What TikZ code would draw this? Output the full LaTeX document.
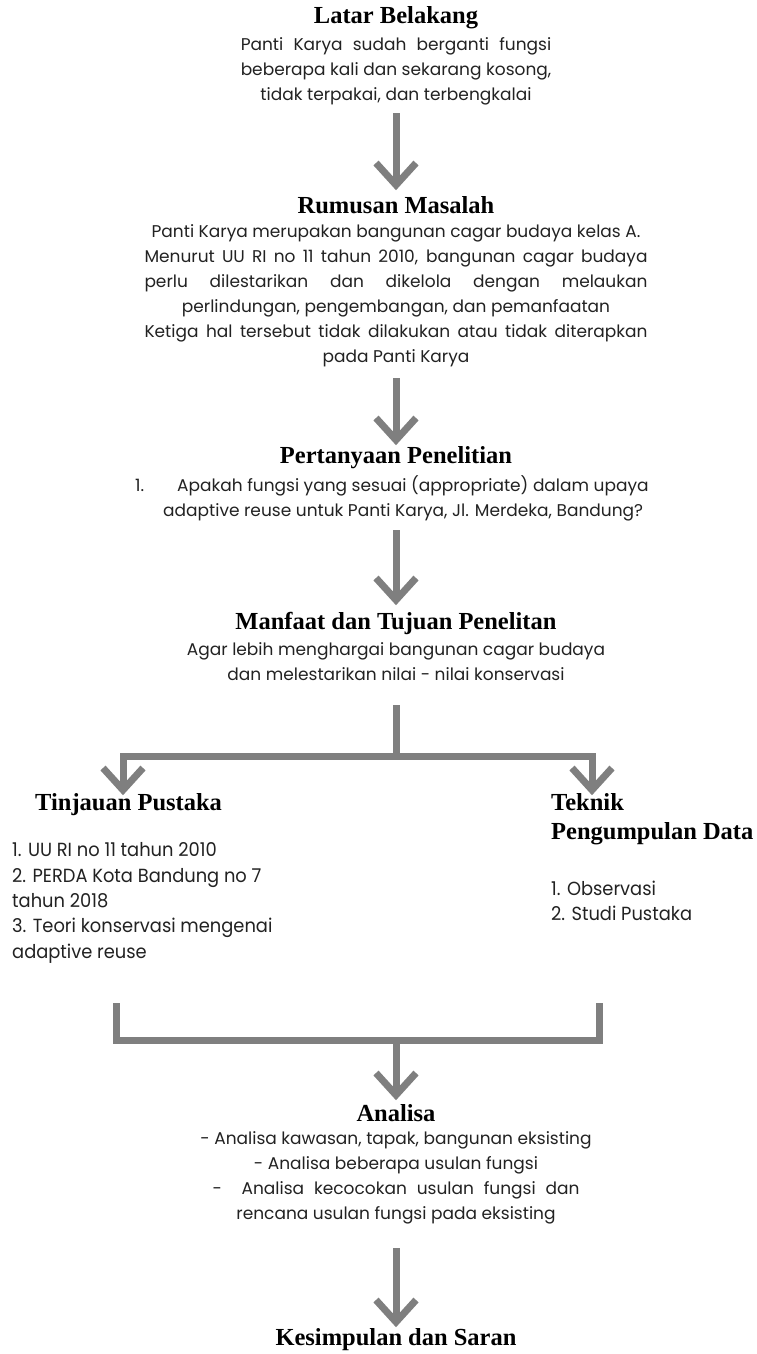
\documentclass[tikz,border=0pt]{standalone}
\usepackage{fontspec}
\setmainfont{Poppins}
\newfontfamily\headfont{Liberation Serif}
\newfontfamily\condfont{Poppins}[FakeStretch=0.94]
\newlength\jw
\definecolor{txt}{HTML}{222222}
\definecolor{lin}{HTML}{7F7F7F}
\begin{document}
\begin{tikzpicture}[x=1pt,y=-1pt,
  head/.style={font=\headfont\bfseries\fontsize{24.5}{29}\selectfont, text=black, inner sep=0pt},
  body/.style={font=\fontsize{17}{25}\selectfont, text=txt, inner sep=0pt, align=center},
  cond/.style={font=\condfont\fontsize{19}{25.3}\selectfont, text=txt, inner sep=0pt, align=left},
  conn/.style={draw=lin, line width=7pt, line cap=butt, line join=miter},
  tipc/.style={draw=lin, line width=7pt, line cap=butt, line join=miter, miter limit=10}]
\useasboundingbox[fill=white] (0,0) rectangle (757,1354);

% Latar Belakang
\node[head] (h1) at (396,18) {Latar Belakang};
\node[body] (b1) at (396,71) {\settowidth\jw{beberapa kali dan sekarang kosong,}\makebox[\jw][s]{Panti Karya sudah berganti fungsi}\\beberapa kali dan sekarang kosong,\\tidak terpakai, dan terbengkalai};

% Rumusan Masalah
\node[head] (h2) at (396,205) {Rumusan Masalah};
\node[body] (b2) at (396,295.5) {Panti Karya merupakan bangunan cagar budaya kelas A.\\
\makebox[503pt][s]{Menurut UU RI no 11 tahun 2010, bangunan cagar budaya}\\
\makebox[503pt][s]{perlu dilestarikan dan dikelola dengan melaukan}\\
perlindungan, pengembangan, dan pemanfaatan\\
\makebox[503pt][s]{Ketiga hal tersebut tidak dilakukan atau tidak diterapkan}\\
pada Panti Karya};

% Pertanyaan Penelitian
\node[head] (h3) at (396,458) {Pertanyaan Penelitian};
\node[body, align=left, anchor=west] (b3) at (135,498.5) {\makebox[42pt][l]{1.}Apakah fungsi yang sesuai (appropriate) dalam upaya\\
\hspace*{28pt}adaptive reuse untuk Panti Karya, Jl. Merdeka, Bandung?};

% Manfaat
\node[head] (h4) at (396,623) {Manfaat dan Tujuan Penelitan};
\node[body] (b4) at (396,661.5) {Agar lebih menghargai bangunan cagar budaya\\dan melestarikan nilai - nilai konservasi};

% Tinjauan Pustaka
\node[head, anchor=west] (h5) at (35,805) {Tinjauan Pustaka};
\node[cond, anchor=west] (b5) at (12,903) {1. UU RI no 11 tahun 2010\\2. PERDA Kota Bandung no 7\\tahun 2018\\3. Teori konservasi mengenai\\adaptive reuse};

% Teknik Pengumpulan Data
\node[head, anchor=west, align=left] (h6) at (551,819.5) {Teknik\\Pengumpulan Data};
\node[cond, anchor=west] (b6) at (551,901) {1. Observasi\\2. Studi Pustaka};

% Analisa
\node[head] (h7) at (396,1113) {Analisa};
\node[body] (b7) at (396,1177.5) {- Analisa kawasan, tapak, bangunan eksisting\\
- Analisa beberapa usulan fungsi\\
\makebox[367pt][s]{- \ Analisa kecocokan usulan fungsi dan}\\
rencana usulan fungsi pada eksisting};

% Kesimpulan
\node[head] (h8) at (396,1340) {Kesimpulan dan Saran};

% connector coordinates
\coordinate (s1) at (396,113);  \coordinate (t1) at (396,185);
\coordinate (s2) at (396,378);  \coordinate (t2) at (396,440);
\coordinate (s3) at (396,530);  \coordinate (t3) at (396,600);
\coordinate (s4) at (396,705);  \coordinate (f4) at (396,756);
\coordinate (fl) at (123,756);  \coordinate (tl) at (123,790);
\coordinate (fr) at (592,756);  \coordinate (tr) at (592,790);
\coordinate (bl) at (116,1003); \coordinate (bll) at (116,1040);
\coordinate (br) at (599,1003); \coordinate (brr) at (599,1040);
\coordinate (bm) at (396,1040); \coordinate (t7) at (396,1095);
\coordinate (s8) at (396,1248); \coordinate (t8) at (396,1322);

% arrows
\draw[conn] (s1) -- (t1); \draw[tipc] (t1) ++(-20,-22) -- (t1) -- ++(20,-22);
\draw[conn] (s2) -- (t2); \draw[tipc] (t2) ++(-20,-22) -- (t2) -- ++(20,-22);
\draw[conn] (s3) -- (t3); \draw[tipc] (t3) ++(-20,-22) -- (t3) -- ++(20,-22);
\draw[conn] (s4) -- (f4);
\draw[conn] (tl) -- (fl) -- (fr) -- (tr);
\draw[tipc] (tl) ++(-20,-22) -- (tl) -- ++(20,-22);
\draw[tipc] (tr) ++(-20,-22) -- (tr) -- ++(20,-22);
\draw[conn] (bl) -- (bll) -- (brr) -- (br);
\draw[conn] (bm) -- (t7); \draw[tipc] (t7) ++(-20,-22) -- (t7) -- ++(20,-22);
\draw[conn] (s8) -- (t8); \draw[tipc] (t8) ++(-20,-22) -- (t8) -- ++(20,-22);
\end{tikzpicture}
\end{document}
